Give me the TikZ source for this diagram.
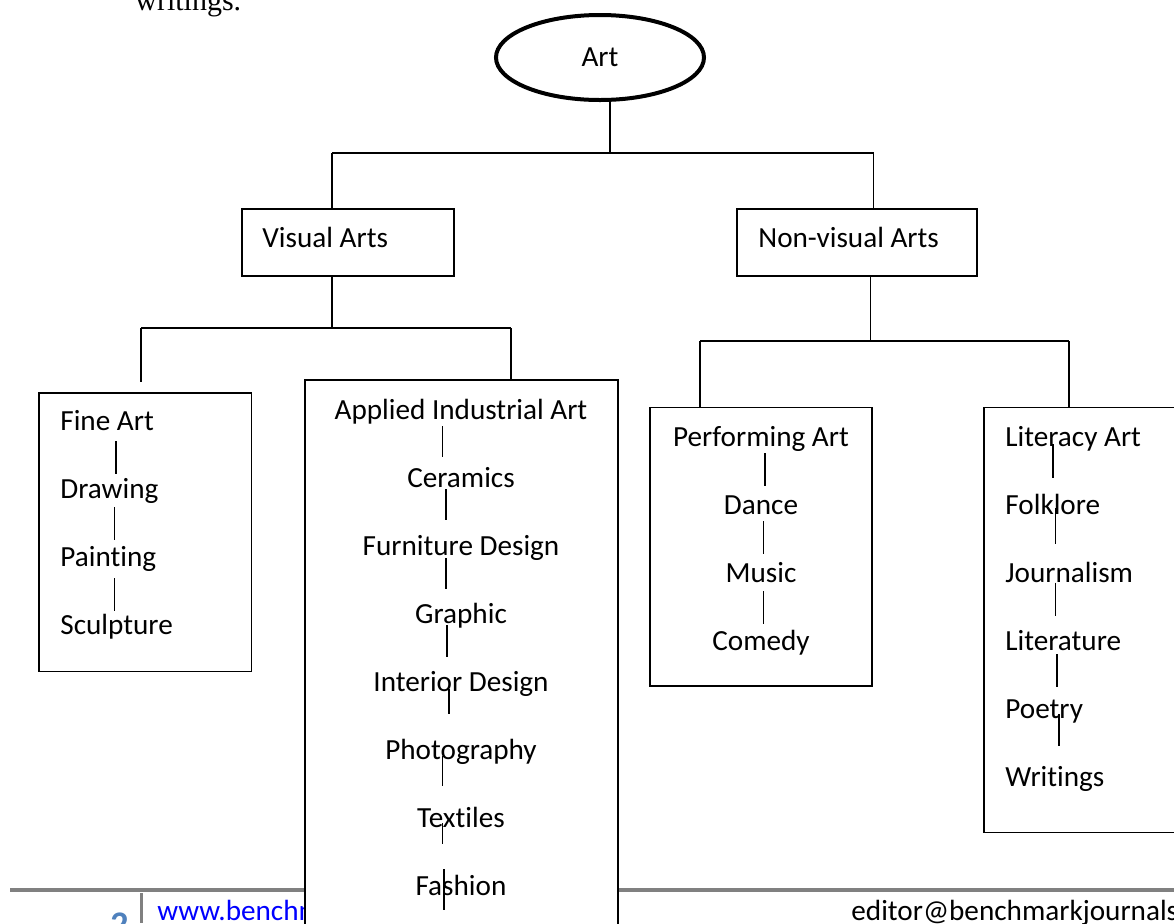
\documentclass[tikz,border=0pt]{standalone}
\usepackage{fontspec}
\setmainfont{Carlito}[Ligatures=NoCommon]
\newfontfamily\timesfont{Liberation Serif}
\usetikzlibrary{shapes.geometric}
\definecolor{footgray}{RGB}{128,128,128}
\definecolor{linkblue}{RGB}{0,0,255}
\definecolor{pageblue}{RGB}{79,129,189}
\newcommand{\lblfont}{\fontsize{14.6}{16}\selectfont}

\begin{document}
\begin{tikzpicture}[x=0.5pt, y=-0.5pt,
    box/.style={draw, line width=0.65pt, fill=white, inner sep=0pt},
    item/.style={inner sep=0pt, font=\lblfont},
    link/.style={line width=0.65pt}]
            \useasboundingbox (0,0) rectangle (1174,923);
            \clip (0,0) rectangle (1174,923);

            % Tail of the text above the chart
            \node[inner sep=0pt, anchor=base west, font=\timesfont\fontsize{15}{17}\selectfont] (prev) at (135,10) {writings.};

            % Draw the page footer
            \draw[line width=2pt, footgray] (10,890) -- (1174,890);
            \draw[line width=1.5pt, footgray] (141,893) -- (141,923);
            \node[inner sep=0pt, anchor=base west, text=pageblue, font=\bfseries\fontsize{18}{20}\selectfont] (page) at (110,936) {2};
            \node[item, anchor=base west, text=linkblue] (web) at (157,920) {www.benchmarkjournals.com};
            \node[item, anchor=base west] (mail) at (851,920) {editor@benchmarkjournals.com};

            % Draw the root
            \node[ellipse, draw, line width=2pt, minimum width=104pt, minimum height=42.5pt, inner sep=0pt, font=\lblfont] (art) at (600,57.5) {Art};

            % Draw the two main groups
            \node[box, minimum width=106pt, minimum height=33.5pt] (visual) at (348,242.5) {};
            \node[item, anchor=base west] (visuallbl) at (262,247) {Visual Arts};

            \node[box, minimum width=120pt, minimum height=33.5pt] (nonvis) at (857,242.5) {};
            \node[item, anchor=base west] (nonvislbl) at (758,247) {Non-visual Arts};

            % Draw the four branch boxes
            \node[box, minimum width=106.25pt, minimum height=139.25pt] (fine) at (145.25,532.25) {};
            \node[box, minimum width=156.5pt, minimum height=290pt] (applied) at (461.5,670) {};
            \node[box, minimum width=111pt, minimum height=139.15pt] (perf) at (761,546.85) {};
            \node[box, minimum width=103pt, minimum height=212.4pt] (lit) at (1087,620.1) {};

            % Fill in the lists
            \foreach \name [count=\i] in {Fine Art, Drawing, Painting, Sculpture}
                \node[item, anchor=base west] (fine\i) at (60, 362.5+68*\i) {\name};

            \foreach \name [count=\i] in {Applied Industrial Art, Ceramics, Furniture Design, Graphic,
                    Interior Design, Photography, Textiles, Fashion}
                \node[item, anchor=base] (app\i) at (461, 351+68*\i) {\name};

            \foreach \name [count=\i] in {Performing Art, Dance, Music, Comedy}
                \node[item, anchor=base] (perf\i) at (761, 378+68*\i) {\name};

            \foreach \name [count=\i] in {Literacy Art, Folklore, Journalism, Literature, Poetry, Writings}
                \node[item, anchor=base west] (lit\i) at (1005, 378+68*\i) {\name};

            % Small bars between the list entries
            \foreach \x/\ya/\yb in {116/441/473.5, 114.5/507/540, 114.5/578/611,
                    442.5/426/457, 446/489/520, 446/558/589, 447/625/657,
                    449/689/713.5, 442.5/756/786, 442.5/823/844, 444/869/910,
                    765/453/486, 763.5/521/554, 763.5/591/624,
                    1053/444/478, 1055.5/508/544, 1055.5/582.5/615.5, 1057/654/687, 1059/714/746}
                \draw[link] (\x,\ya) -- (\x,\yb);

            % Connect the tree
            \coordinate (top) at (610,153);
            \coordinate (va) at (332,153);
            \coordinate (nva) at (873.5,153);
            \draw[link] (art.south -| top) -- (top);
            \draw[link] (va) -- (nva);
            \draw[link] (va) -- (va |- visual.north);
            \draw[link] (nva) -- (nva |- nonvis.north);

            \coordinate (vbus) at (332,328);
            \coordinate (fa) at (141,328);
            \coordinate (aa) at (511,328);
            \draw[link] (visual.south -| vbus) -- (vbus);
            \draw[link] (fa) -- (aa);
            \draw[link] (fa) -- ++(0,54);
            \draw[link] (aa) -- (aa |- applied.north);

            \coordinate (nbus) at (870.5,341);
            \coordinate (pa) at (700,341);
            \coordinate (la) at (1069,341);
            \draw[link] (nonvis.south -| nbus) -- (nbus);
            \draw[link] (pa) -- (la);
            \draw[link] (pa) -- (pa |- perf.north);
            \draw[link] (la) -- (la |- lit.north);

        \end{tikzpicture}
\end{document}
